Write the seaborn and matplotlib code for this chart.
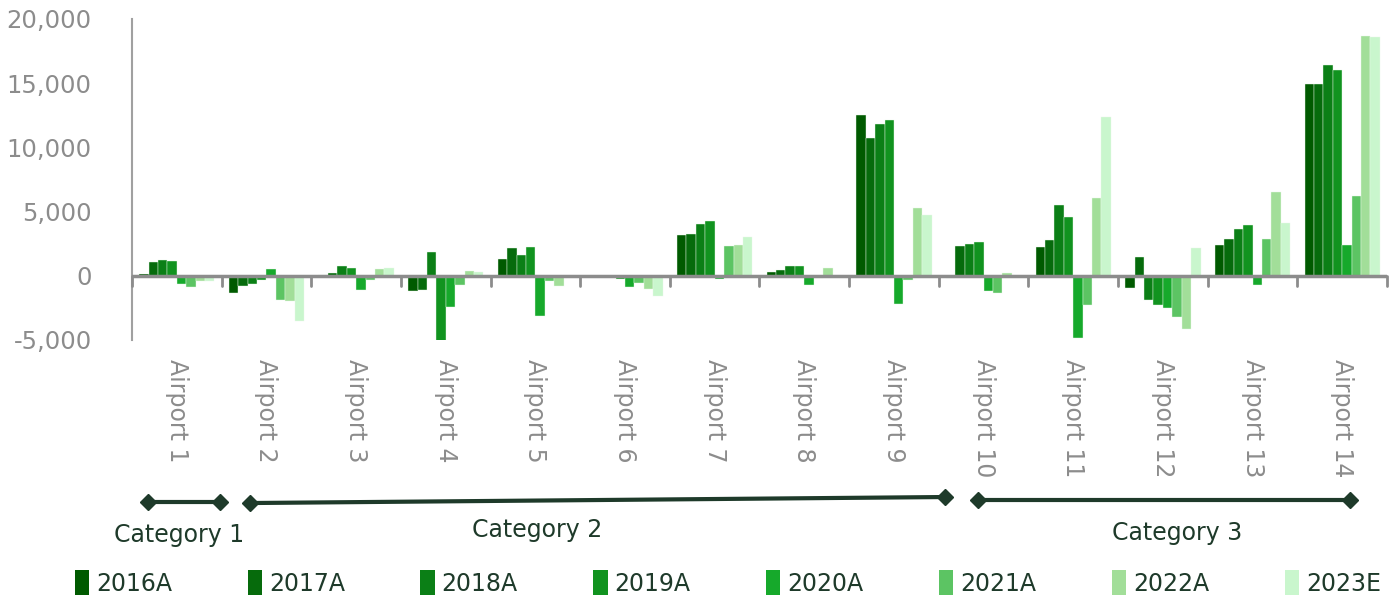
import pandas as pd
import matplotlib.pyplot as plt
import seaborn as sns
from matplotlib.lines import Line2D
from matplotlib.patches import Patch

# Dati
airports = [f"Airport {i}" for i in range(1, 15)]
years = ["2016A", "2017A", "2018A", "2019A", "2020A", "2021A", "2022A", "2023E"]
v2016 = [150, -1350, 100, -1220, 1280, 0, 3200, 290, 12560, -180, 2210, -940, 2370, 14920]
v2017 = [1070, -780, 180, -1130, 2140, 0, 3260, 420, 10750, 2350, 2750, 1460, 2840, 14900]
v2018 = [1225, -670, 760, 1820, 1590, 0, 4040, 760, 11820, 2480, 5500, -1900, 3620, 16430]
v2019 = [1150, -310, 600, -5240, 2250, -230, 4300, 760, 12130, 2630, 4590, -2310, 3930, 15990]
v2020 = [-625, 500, -1140, -2400, -3150, -880, -230, -700, -2160, -1220, -4840, -2520, -680, 2370]
v2021 = [-880, -1870, -290, -730, -400, -600, 2320, -200, -340, -1320, -2310, -3200, 2870, 6220]
v2022 = [-440, -1950, 500, 340, -830, -1020, 2400, 630, 5260, 240, 6070, -4140, 6510, 18700]
v2023 = [-390, -3560, 600, 270, 0, -1610, 3050, 0, 4740, -50, 12400, 2190, 4140, 18620]
categories = ["Category 1", "Category 2", "Category 3"]

colors = ["#005a00", "#066b0c", "#0b7f16", "#11931f", "#16a92b", "#5cc463", "#a2de99", "#c9f6cd"]
text_col = "#1e3a2a"
grey = "#8c8c8c"

series = [v2016, v2017, v2018, v2019, v2020, v2021, v2022, v2023]
rows = []
for y, vals in zip(years, series):
    for a, v in zip(airports, vals):
        rows.append({"airport": a, "year": y, "value": v})
df = pd.DataFrame(rows)

sns.set_style("white")
plt.rcParams["font.family"] = ["DejaVu Sans"]

fig = plt.figure(figsize=(14, 6.01), dpi=100)
ax = fig.add_axes([0.0943, 0.4343, 0.8964, 0.5341])

sns.barplot(data=df, x="airport", y="value", hue="year", palette=colors,
            saturation=1, width=0.84, gap=0, errorbar=None, legend=False,
            edgecolor="#e8f8e8", linewidth=0.3, ax=ax)

ax.set_ylim(-5000, 20000)
ax.set_xlim(-0.5, 13.5)
ax.set_yticks(range(-5000, 20001, 5000))
ax.set_yticklabels([f"{t:,}" for t in range(-5000, 20001, 5000)])
ax.set_xlabel("")
ax.set_ylabel("")

for s in ["top", "right", "bottom"]:
    ax.spines[s].set_visible(False)
ax.spines["left"].set_color("#a0a0a0")
ax.spines["left"].set_linewidth(1.5)

ax.tick_params(axis="y", colors=grey, labelsize=17.5, length=5, width=1.5, pad=24)
ax.tick_params(axis="x", length=0, pad=14, labelsize=17, labelcolor=grey)
plt.setp(ax.get_xticklabels(), rotation=-90, ha="center", va="top")

# linea dello zero e tacche tra le categorie
ax.axhline(0, color=grey, lw=2.5, zorder=3)
for i in range(15):
    ax.plot([i - 0.5, i - 0.5], [0, -780], color=grey, lw=2, clip_on=False, zorder=3)

# frecce delle categorie
spans = [((0.1057, 0.1647), (0.1571, 0.1647)),
         ((0.1786, 0.1630), (0.6750, 0.1730)),
         ((0.6986, 0.1680), (0.9643, 0.1680))]
for (x0, y0), (x1, y1) in spans:
    fig.add_artist(Line2D([x0, x1], [y0, y1], transform=fig.transFigure, color=text_col,
                          lw=3, marker="D", markersize=8))
label_pos = [(0.128, 0.110), (0.384, 0.118), (0.841, 0.113)]
for c, (x, y) in zip(categories, label_pos):
    fig.text(x, y, c, ha="center", va="center", fontsize=17, color=text_col)

handles = [Patch(facecolor=c, edgecolor="none") for c in colors]
fig.legend(handles, years, loc="center", bbox_to_anchor=(0.52, 0.030), ncol=8,
           frameon=False, fontsize=17, labelcolor=text_col, handlelength=0.6,
           handleheight=1.2, handletextpad=0.3, columnspacing=3.2)

fig.savefig("out.png", dpi=100)
